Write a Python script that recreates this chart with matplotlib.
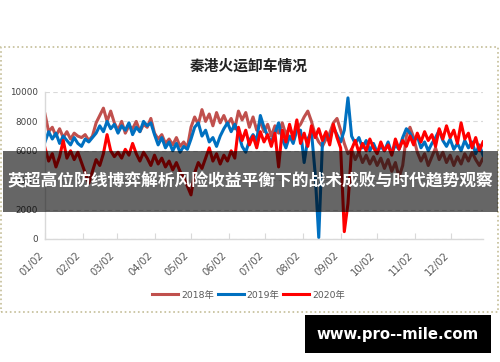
import numpy as np
import pandas as pd
import matplotlib
matplotlib.use('Agg')
from matplotlib import pyplot as plt
from matplotlib.patches import Rectangle

plt.rcParams['font.family'] = ['DejaVu Sans', 'Noto Sans CJK SC']

# ---- data (one value every 3 days) ----
title = '秦港火运卸车情况'
banner = '英超高位防线博弈解析风险收益平衡下的战术成败与时代趋势观察'
watermark = 'www.pro--mile.com'
series_names = ['2018年', '2019年', '2020年']
month_labels = ['01/02', '02/02', '03/02', '04/02', '05/02', '06/02',
                '07/02', '08/02', '09/02', '10/02', '11/02', '12/02']
y_ticks = [0, 2000, 4000, 6000, 8000, 10000]

sample_dates = pd.date_range('2019-01-02', periods=121, freq='3D')

v2018 = [8500, 7300, 7600, 7000, 7500, 6900, 7300, 6800, 7200, 7000,
         6900, 7100, 6700, 7000, 7900, 8400, 8900, 8000, 8700, 7900,
         7400, 8000, 7200, 7700, 7500, 8000, 7300, 7800, 7600, 8200,
         7200, 6800, 7100, 6500, 6800, 6400, 6900, 6300, 6600, 6200,
         7600, 8300, 7800, 8800, 8000, 8500, 7700, 8600, 7900, 8400,
         7800, 8200, 7500, 8700, 8100, 8600, 7600, 8300, 7400, 8000,
         7300, 7800, 7000, 7700, 7200, 7900, 7100, 7600, 7000, 7500,
         7800, 8300, 8700, 8000, 7100, 6600, 6300, 6800, 7200, 7900,
         8200, 7400, 6500, 5800, 6100, 5400, 5900, 5200, 5700, 5100,
         5600, 5000, 5500, 4800, 5400, 4600, 5200, 4200, 5000, 7000,
         7600, 6900, 5900, 5300, 5800, 5000, 5600, 6200, 5400, 5900,
         5200, 5700, 5000, 5600, 5100, 5800, 5300, 5900, 5400, 5000, 5500]

v2019 = [6600, 7300, 6800, 7200, 6500, 7000, 6700, 6400, 6900, 6500,
         6300, 6800, 6600, 6900, 7200, 7700, 7300, 8000, 7500, 7800,
         7200, 7700, 7400, 7900, 7100, 7600, 7300, 8000, 7700, 7900,
         7100, 6400, 6900, 6200, 6600, 6000, 6500, 5900, 6300, 6100,
         6800, 7600, 7900, 7000, 7400, 6600, 6900, 6300, 7000, 7500,
         7900, 7300, 7800, 7200, 6300, 5900, 6700, 7100, 6700, 8400,
         7600, 7000, 6600, 7200, 7900, 6800, 6200, 7000, 6500, 7400,
         7400, 5200, 6800, 7300, 4500, 100, 6500, 7200, 6800, 7600,
         7100, 6600, 7400, 9600, 7000, 6500, 6900, 6200, 6700, 6000,
         6500, 5900, 6300, 6000, 6600, 5800, 6400, 6100, 6900, 7500,
         7200, 6700, 7000, 6200, 6600, 6000, 6500, 6900, 7400, 6700,
         6300, 6800, 6100, 6500, 6000, 6700, 6200, 6600, 5800, 6400, 5700]

v2020 = [6200, 5300, 5800, 4900, 5600, 6700, 5500, 6000, 5400, 5900,
         5200, 4500, 3800, 4600, 5400, 5000, 5800, 7100, 6000, 5600,
         5900, 5500, 6100, 5700, 6500, 5800, 5300, 5900, 5500, 5000,
         5700, 5100, 5500, 4900, 5300, 4700, 5200, 4600, 4200, 3600,
         3000, 4500, 5200, 4800, 5500, 6200, 5300, 5800, 5100, 5700,
         5300, 6000, 5500, 7600, 6700, 7400, 6400, 7000, 6200, 7300,
         6600, 7100, 6300, 7200, 4900, 7400, 6600, 7800, 6800, 8100,
         6500, 7200, 6300, 7700, 6900, 7500, 6700, 7300, 6400, 7800,
         6900, 6200, 500, 2400, 6100, 6700, 5900, 6500, 6000, 6800,
         6200, 5800, 6600, 6000, 6400, 5700, 6800, 6100, 6700, 6300,
         7000, 6400, 7200, 6600, 7300, 6700, 7100, 6300, 7500, 6800,
         7700, 6900, 7400, 6500, 7900, 6800, 7200, 6200, 6900, 6000, 6600]

colors = ['#c0504d', '#0070c0', '#ff0000']

# ---- figure ----
start = pd.Timestamp('2019-01-02')
days = (sample_dates - start).days.values
tick_pos = [(pd.Timestamp('2019/' + m) - start).days for m in month_labels]

fig = plt.figure(figsize=(5, 3.62), dpi=100)
fig.patch.set_facecolor('white')
ax = fig.add_axes([0.09, 0.3398, 0.876, 0.4061])

for vals, name, c in zip([v2018, v2019, v2020], series_names, colors):
    ax.plot(days, vals, color=c, lw=2.2, label=name, solid_joinstyle='round')

ax.set_xlim(0, 360)
ax.set_ylim(0, 10000)
ax.set_yticks(y_ticks)
ax.set_yticklabels([str(v) for v in y_ticks])
ax.set_xticks(tick_pos)
ax.set_xticklabels(month_labels, rotation=45, ha='right')

ax.grid(axis='y', color='#d9d9d9', ls=(0, (4, 3)), lw=0.8)
ax.set_axisbelow(True)
for s in ['top', 'right']:
    ax.spines[s].set_visible(False)
for s in ['left', 'bottom']:
    ax.spines[s].set_color('#d9d9d9')
    ax.spines[s].set_linewidth(1.0)
ax.tick_params(axis='y', length=0, pad=5, labelsize=6.3, labelcolor='#404040')
ax.tick_params(axis='x', direction='in', length=4, color='#d9d9d9', pad=8,
               labelsize=7.3, labelcolor='#595959')

ax.legend(loc='center', bbox_to_anchor=(0.497, 0.185),
          bbox_transform=fig.transFigure, ncol=3, frameon=False,
          fontsize=6.7, labelcolor='#595959', handlelength=2.8,
          handletextpad=0.3, columnspacing=0.4)

fig.text(0.498, 1 - 66 / 362, title, ha='center', va='center',
         fontsize=10.6, fontweight='bold', family='Noto Sans CJK SC',
         color='#222222')

# chart frame
fig.patches.append(Rectangle((1 / 500, 1 - 312 / 362), 497 / 500, 265 / 362,
                             transform=fig.transFigure, fill=False,
                             ls=':', lw=1.2, ec='#c4bd97'))

# banner over the chart (covers the 4000 label like the reference)
fig.patches.append(Rectangle((3 / 500, 1 - 211.5 / 362), 495 / 500, 61 / 362,
                             transform=fig.transFigure, fc='black',
                             alpha=0.6, ec='none', zorder=5))
fig.text(0.5, 1 - 181.5 / 362, banner, ha='center', va='center',
         fontsize=12.1, fontweight='bold', family='Noto Sans CJK SC',
         color='white', zorder=6)

# watermark box
fig.patches.append(Rectangle((305 / 500, 1 - 353 / 362), 186 / 500, 38 / 362,
                             transform=fig.transFigure, fc='black',
                             ec='none', zorder=5))
fig.text(398 / 500, 1 - 334 / 362, watermark, ha='center', va='center',
         fontsize=10.7, fontweight='bold', color='white', zorder=6)

fig.savefig('out.png', dpi=100, facecolor='white')
